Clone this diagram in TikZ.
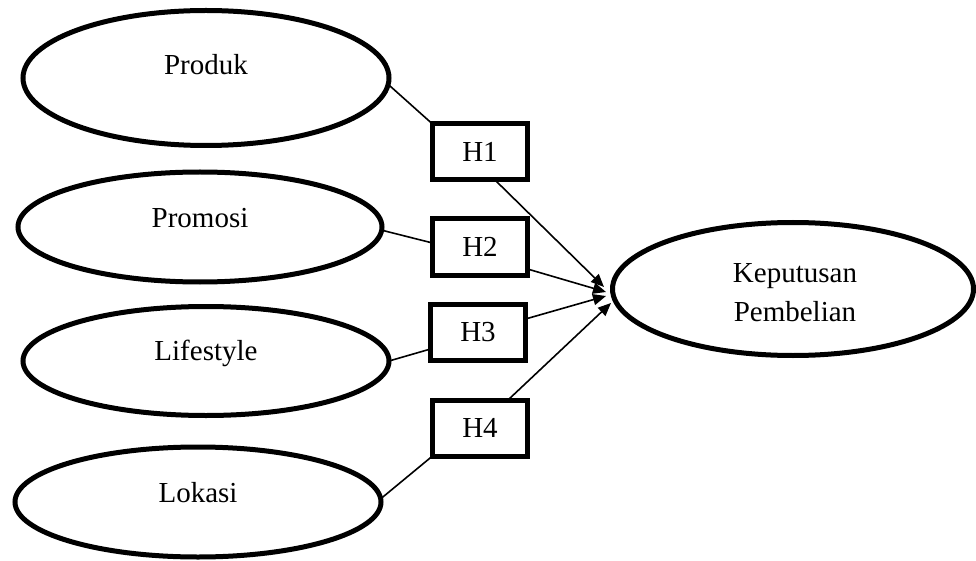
\documentclass[tikz,border=0pt]{standalone}
\usepackage{fontspec}
\setmainfont{Liberation Serif}
\usetikzlibrary{shapes.geometric,arrows.meta}
\begin{document}
\begin{tikzpicture}[x=1pt,y=-1pt,
  ell/.style={draw,ellipse,line width=5pt,inner sep=0pt,outer sep=0pt},
  hbox/.style={draw,rectangle,line width=5pt,minimum width=95pt,minimum height=56pt,inner sep=0pt,outer sep=0pt},
  lbl/.style={font=\fontsize{29}{39}\selectfont,align=center},
  link/.style={line width=1.6pt},
  arr/.style={line width=1.6pt,-{Triangle[length=13pt,width=11pt]}}]
\useasboundingbox (0,0) rectangle (976,561);
% left ellipses
\node[ell,minimum width=366pt,minimum height=135pt] (prod) at (206,78) {};
\node[lbl] (tprod) at (206,65) {Produk};
\node[ell,minimum width=364pt,minimum height=110pt] (prom) at (200,227) {};
\node[lbl] (tprom) at (200,218) {Promosi};
\node[ell,minimum width=366pt,minimum height=109pt] (life) at (206,361) {};
\node[lbl] (tlife) at (206,353) {Lifestyle};
\node[ell,minimum width=366pt,minimum height=110pt] (lok) at (198,502) {};
\node[lbl] (tlok) at (198,493) {Lokasi};
% right ellipse
\node[ell,minimum width=361pt,minimum height=133pt] (kep) at (793,289) {};
\node[lbl] (tkep) at (795,293) {Keputusan\\Pembelian};
% boxes
\node[hbox,lbl] (h1) at (480,152) {H1};
\node[hbox,lbl] (h2) at (480,247) {H2};
\node[hbox,lbl] (h3) at (478,332) {H3};
\node[hbox,lbl] (h4) at (480,428) {H4};
% targets
\coordinate (t1) at (604,287);
\coordinate (t2) at (606,292);
\coordinate (t3) at (606,296);
\coordinate (t4) at (611,303);
% links
\draw[link] (prod.-2) -- (h1.north west);
\draw[link] (prom.-1) -- ([yshift=4pt]h2.west);
\draw[link] (life.0) -- ([yshift=-17pt]h3.west);
\draw[link] (lok.1) -- (h4.south west);
% arrows
\draw[arr] ([xshift=15pt]h1.south) -- (t1);
\draw[arr] ([yshift=-22pt]h2.east) -- (t2);
\draw[arr] ([yshift=13pt]h3.east) -- (t3);
\draw[arr] ([xshift=28pt]h4.north) -- (t4);
\end{tikzpicture}
\end{document}
